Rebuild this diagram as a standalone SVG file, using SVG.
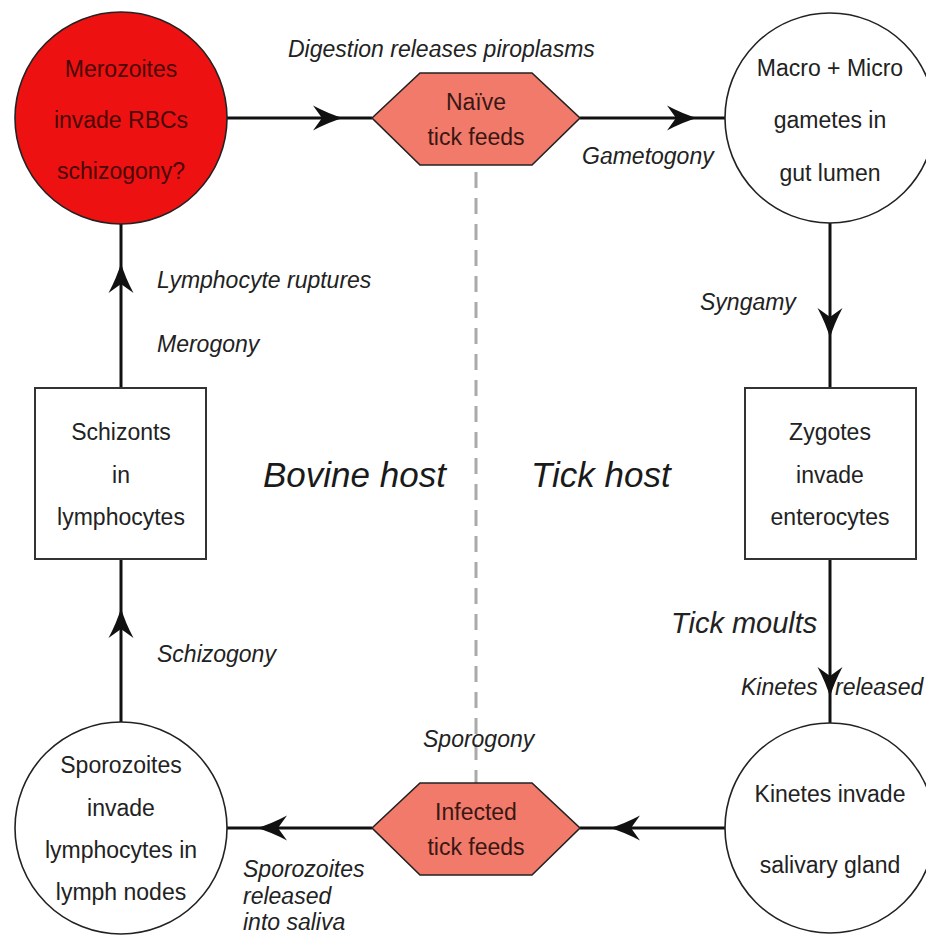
<svg xmlns="http://www.w3.org/2000/svg" xmlns:xlink="http://www.w3.org/1999/xlink" width="926" height="938" viewBox="0 0 926 938">
<style>
.t{font-family:"Liberation Sans",Arial,sans-serif;font-size:23px;fill:#222;text-anchor:middle}
.lab{font-family:"Liberation Sans",Arial,sans-serif;font-size:23px;font-style:italic;fill:#222}
.big{font-family:"Liberation Sans",Arial,sans-serif;font-size:35px;font-style:italic;fill:#1a1a1a}
.shape{stroke:#222;stroke-width:1.6}
.circ{fill:#fff}
.hex{fill:#f17a6b}
.box{fill:#fff;stroke:#333;stroke-width:2}
.conn line{stroke:#111;stroke-width:3}
.ah{fill:#111}
.red{fill:#4a0808}
.ht{fill:#3a1713}
</style>
<defs>
<path id="ah" class="ah" d="M0,0 Q-14,-4 -30,-12.5 L-21,0 L-30,12.5 Q-14,4 0,0 Z"/>
</defs>
<rect width="926" height="938" fill="#fff"/>
<line x1="476" y1="172" x2="476" y2="783" stroke="#aaa" stroke-width="3" stroke-dasharray="16,10"/>
<g class="conn" id="connectors">
<line x1="227" y1="118" x2="372" y2="118"/>
<use xlink:href="#ah" transform="translate(343,118)"/>
<line x1="580" y1="118" x2="725" y2="118"/>
<use xlink:href="#ah" transform="translate(697,118)"/>
<line x1="830" y1="223" x2="830" y2="388"/>
<use xlink:href="#ah" transform="translate(830,338) rotate(90)"/>
<line x1="830" y1="559" x2="830" y2="723"/>
<use xlink:href="#ah" transform="translate(830,697) rotate(90)"/>
<line x1="725" y1="828" x2="580" y2="828"/>
<use xlink:href="#ah" transform="translate(610,828) rotate(180)"/>
<line x1="372" y1="828" x2="227" y2="828"/>
<use xlink:href="#ah" transform="translate(257,828) rotate(180)"/>
<line x1="121" y1="722" x2="121" y2="559"/>
<use xlink:href="#ah" transform="translate(121,608) rotate(-90)"/>
<line x1="121" y1="388" x2="121" y2="224"/>
<use xlink:href="#ah" transform="translate(121,263) rotate(-90)"/>
</g>
<g id="merozoites">
<circle class="shape" cx="121" cy="118" r="106" fill="#ee1111"/>
<text class="t red" x="121" y="77">Merozoites</text>
<text class="t red" x="121" y="128">invade RBCs</text>
<text class="t red" x="121" y="179">schizogony?</text>
</g>
<g id="naive">
<polygon class="shape hex" points="372,118 420,73 532,73 580,118 532,165 420,165"/>
<text class="t ht" x="476" y="110">Naïve</text>
<text class="t ht" x="476" y="145">tick feeds</text>
</g>
<g id="gametes">
<circle class="shape circ" cx="830" cy="118" r="105"/>
<text class="t" x="830" y="76">Macro + Micro</text>
<text class="t" x="830" y="128">gametes in</text>
<text class="t" x="830" y="181">gut lumen</text>
</g>
<g id="zygotes">
<rect class="box" x="745" y="388" width="171" height="171"/>
<text class="t" x="830" y="440">Zygotes</text>
<text class="t" x="830" y="483">invade</text>
<text class="t" x="830" y="525">enterocytes</text>
</g>
<g id="kinetes">
<circle class="shape circ" cx="830" cy="828" r="105"/>
<text class="t" x="830" y="802">Kinetes invade</text>
<text class="t" x="830" y="873">salivary gland</text>
</g>
<g id="infected">
<polygon class="shape hex" points="372,828 420,783 532,783 580,828 532,875 420,875"/>
<text class="t ht" x="476" y="820">Infected</text>
<text class="t ht" x="476" y="855">tick feeds</text>
</g>
<g id="sporozoites">
<circle class="shape circ" cx="121" cy="828" r="106"/>
<text class="t" x="121" y="773">Sporozoites</text>
<text class="t" x="121" y="816">invade</text>
<text class="t" x="121" y="858">lymphocytes in</text>
<text class="t" x="121" y="900">lymph nodes</text>
</g>
<g id="schizonts">
<rect class="box" x="35" y="388" width="171" height="171"/>
<text class="t" x="121" y="440">Schizonts</text>
<text class="t" x="121" y="483">in</text>
<text class="t" x="121" y="525">lymphocytes</text>
</g>
<g id="labels">
<text class="lab" x="288" y="57">Digestion releases piroplasms</text>
<text class="lab" x="582" y="164">Gametogony</text>
<text class="lab" x="700" y="310">Syngamy</text>
<text class="lab" x="671" y="633" style="font-size:29px">Tick moults</text>
<text class="lab" y="695"><tspan x="741">Kinetes</tspan><tspan x="835">released</tspan></text>
<text class="lab" x="423" y="747">Sporogony</text>
<text class="lab" x="243" y="877">Sporozoites</text>
<text class="lab" x="243" y="904">released</text>
<text class="lab" x="243" y="930">into saliva</text>
<text class="lab" x="157" y="662">Schizogony</text>
<text class="lab" x="157" y="352">Merogony</text>
<text class="lab" x="157" y="288">Lymphocyte ruptures</text>
<text class="big" x="263" y="487">Bovine host</text>
<text class="big" x="531" y="487">Tick host</text>
</g>
</svg>
